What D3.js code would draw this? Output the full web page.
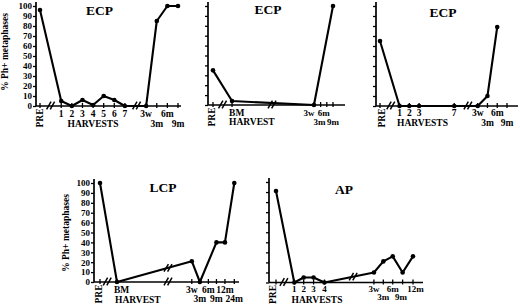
<!DOCTYPE html>
<html><head><meta charset="utf-8">
<script src="https://cdn.jsdelivr.net/npm/d3@7"></script>
<style>
html,body{margin:0;padding:0;background:#fff;}
svg text{font-family:"Liberation Serif","Times New Roman",serif;font-weight:bold;fill:#000;}
</style></head>
<body>
<svg id="chart" width="520" height="304"></svg>
<script>
// ---------- DATA ----------
// Panel 1 (ECP)
const p1Cats = ["PRE","1","2","3","4","5","6","7","3w","3m","6m","9m"];
const p1Pos  = [0, 2, 3, 4, 5, 6, 7, 8, 10, 11, 12, 13];
const p1Vals = [96, 5, 0, 6, 1, 10, 6, 0, 0, 85, 100, 100];
const p1Breaks = [1, 9.1];

// Panel 2 (ECP)
const p2Cats = ["PRE","BM","3w","3m","6m","9m"];
const p2Pos  = [0, 2, 10.6, 11.3, 11.95, 12.6];
const p2Vals = [35, 4, 0, null, null, 100];
const p2Breaks = [1, 6.2];

// Panel 3 (ECP)
const p3Cats = ["PRE","1","2","3","7","3w","3m","6m","9m"];
const p3Pos  = [0, 2, 3, 4, 7.6, 10, 11, 12, 13];
const p3Vals = [65, 0, 0, 0, 0, 0, 10, 79, null];
const p3Breaks = [1.1, 9];

// Panel 4 (LCP)
const p4Cats = ["PRE","BM","3w","3m","6m","9m","12m","24m"];
const p4Pos  = [0, 2, 10.8, 11.75, 12.75, 13.7, 14.7, 15.8];
const p4Vals = [100, 0, 21, 0, null, 40, 40, 100];
const p4Breaks = [0.85, 8];

// Panel 5 (AP)
const p5Cats = ["PRE","1","2","3","4","3w","3m","6m","9m","12m"];
const p5Pos  = [0, 1.85, 2.8, 3.8, 4.9, 9.9, 10.85, 11.8, 12.8, 13.85];
const p5Vals = [91, 0, 5, 5, 0, 10, 21, 26, 10, 26];
const p5Breaks = [0.8];
const p5DataBreaks = [7.8];

const yTicks = [0,10,20,30,40,50,60,70,80,90,100];
const yTitle = "% Ph+ metaphases";

// ---------- DRAW ----------
const svg = d3.select("#chart");

function breakMark(g, x, y) {
  [-1.8, 1.8].forEach(o => {
    g.append("line")
      .attr("x1", x + o - 2.2).attr("y1", y + 3.8)
      .attr("x2", x + o + 2.2).attr("y2", y - 3.8)
      .attr("stroke", "#000").attr("stroke-width", 1.5);
  });
}

function panel(cfg) {
  const g = svg.append("g");
  const x = d3.scaleLinear().domain(cfg.slotDomain).range(cfg.pxRange);
  const y = d3.scaleLinear().domain([0, 100]).range([cfg.y0, cfg.y100]);
  const fs = cfg.fs || 9.5;

  // y axis
  const yAxis = d3.axisLeft(y).tickValues(yTicks).tickSize(3).tickPadding(1)
    .tickFormat(cfg.yLabels ? d3.format("d") : () => "");
  const ya = g.append("g").attr("transform", `translate(${cfg.axisX},0)`).call(yAxis);
  ya.select(".domain").remove();
  ya.selectAll("line").attr("stroke", "#000").attr("stroke-width", 1.3);
  ya.selectAll("text").style("font-size", "9px").style("font-family", null);
  g.append("line").attr("x1", cfg.axisX).attr("x2", cfg.axisX)
    .attr("y1", cfg.yTop).attr("y2", cfg.y0)
    .attr("stroke", "#000").attr("stroke-width", 1.7);

  // x axis line
  g.append("line").attr("x1", cfg.axisX).attr("x2", cfg.axisEnd)
    .attr("y1", cfg.y0).attr("y2", cfg.y0)
    .attr("stroke", "#000").attr("stroke-width", 1.7);

  // x ticks
  g.selectAll(".xt").data(cfg.pos).enter().append("line")
    .attr("x1", d => x(d)).attr("x2", d => x(d))
    .attr("y1", cfg.y0 - 3).attr("y2", cfg.y0 + 2)
    .attr("stroke", "#000").attr("stroke-width", 1.3);

  // x tick labels
  let timeIdx = 0;
  cfg.cats.forEach((c, i) => {
    const px = x(cfg.pos[i]) + (cfg.labelDx ? cfg.labelDx[i] : 0);
    if (c === "PRE") {
      g.append("text").text(c)
        .attr("transform", `translate(${px + cfg.preDx + 3.5},${cfg.y0 + 2.5}) rotate(-90)`)
        .attr("text-anchor", "end").style("font-size", "9.5px");
    } else if (c === "BM") {
      g.append("text").text(c).attr("x", px - 3).attr("y", cfg.y0 + cfg.row1)
        .attr("text-anchor", "start").style("font-size", "9.5px");
    } else {
      let row = cfg.row1;
      if (/[wm]$/.test(c)) { row = (timeIdx % 2 === 0) ? cfg.row1 : cfg.row2; timeIdx++; }
      g.append("text").text(c).attr("x", px).attr("y", cfg.y0 + row)
        .attr("text-anchor", "middle").style("font-size", fs + "px");
    }
  });

  // x axis title
  g.append("text").text(cfg.xTitle).attr("x", cfg.xTitleX).attr("y", cfg.y0 + cfg.xTitleDy)
    .attr("text-anchor", cfg.xTitleAnchor).style("font-size", "9.5px");

  // y title
  if (cfg.yLabels) {
    g.append("text").text(yTitle)
      .attr("transform", `translate(${cfg.yTitleX},${cfg.yTitleY}) rotate(-90)`)
      .attr("text-anchor", "middle").style("font-size", "9.5px");
  }

  // chart title
  g.append("text").text(cfg.title).attr("x", cfg.titleX).attr("y", cfg.titleY)
    .attr("text-anchor", "middle").style("font-size", "13.5px");

  // data
  const pts = cfg.cats.map((c, i) => ({x: cfg.pos[i], v: cfg.vals[i]})).filter(d => d.v !== null);
  const line = d3.line().x(d => x(d.x)).y(d => y(d.v));
  g.append("path").datum(pts).attr("d", line)
    .attr("fill", "none").attr("stroke", "#000").attr("stroke-width", 2.1)
    .attr("stroke-linejoin", "round");
  g.selectAll(".dot").data(pts).enter().append("circle")
    .attr("cx", d => x(d.x)).attr("cy", d => y(d.v)).attr("r", 2.3).attr("fill", "#000");

  // axis breaks
  cfg.breaks.forEach(b => breakMark(g, x(b), cfg.y0 - 0.5));
  (cfg.dataBreaks || []).forEach(b => {
    let yy = cfg.y0;
    for (let k = 0; k < pts.length - 1; k++) {
      if (pts[k].x <= b && pts[k + 1].x >= b) {
        const t = (b - pts[k].x) / (pts[k + 1].x - pts[k].x);
        yy = y(pts[k].v + t * (pts[k + 1].v - pts[k].v));
      }
    }
    breakMark(g, x(b), yy);
  });
}

panel({cats: p1Cats, pos: p1Pos, vals: p1Vals, breaks: p1Breaks,
  slotDomain: [0, 13], pxRange: [40, 178], y0: 106, y100: 6, yTop: 2,
  axisX: 36, axisEnd: 181, yLabels: true, row1: 11, row2: 21, preDx: -1,
  xTitle: "HARVESTS", xTitleX: 93, xTitleDy: 21, xTitleAnchor: "middle",
  yTitleX: 8, yTitleY: 52, title: "ECP", titleX: 99.5, titleY: 15});

panel({cats: p2Cats, pos: p2Pos, vals: p2Vals, breaks: p2Breaks,
  slotDomain: [0, 12.6], pxRange: [213, 333], y0: 105, y100: 6, yTop: 2,
  axisX: 208, axisEnd: 345, yLabels: false, row1: 11, row2: 20, preDx: -1.5,
  labelDx: [0, 0, -5, -1, -3, 0], fs: 9,
  xTitle: "HARVEST", xTitleX: 229, xTitleDy: 20, xTitleAnchor: "start",
  title: "ECP", titleX: 268, titleY: 14});

panel({cats: p3Cats, pos: p3Pos, vals: p3Vals, breaks: p3Breaks,
  slotDomain: [0, 13], pxRange: [380, 507], y0: 106, y100: 6, yTop: 2,
  axisX: 376, axisEnd: 518, yLabels: false, row1: 10, row2: 20, preDx: 1.5,
  xTitle: "HARVESTS", xTitleX: 422.5, xTitleDy: 20, xTitleAnchor: "middle",
  title: "ECP", titleX: 443, titleY: 16.5});

panel({cats: p4Cats, pos: p4Pos, vals: p4Vals, breaks: p4Breaks, dataBreaks: p4Breaks.slice(1),
  slotDomain: [0, 15.8], pxRange: [100, 234.3], y0: 282, y100: 183, yTop: 179,
  axisX: 94, axisEnd: 239, yLabels: true, row1: 11, row2: 20, preDx: -1.5,
  xTitle: "HARVEST", xTitleX: 115, xTitleDy: 21, xTitleAnchor: "start",
  yTitleX: 69, yTitleY: 233, title: "LCP", titleX: 163, titleY: 191.5});

panel({cats: p5Cats, pos: p5Pos, vals: p5Vals, breaks: p5Breaks, dataBreaks: p5DataBreaks,
  slotDomain: [0, 13.85], pxRange: [276, 413], y0: 282.5, y100: 182, yTop: 178,
  axisX: 269, axisEnd: 423, yLabels: false, row1: 9, row2: 17, preDx: -3.7, fs: 9,
  labelDx: [0, 0, 0, 0, 0, 0, 0, 0, -1.5, 2.5],
  xTitle: "HARVESTS", xTitleX: 317, xTitleDy: 20.3, xTitleAnchor: "middle",
  title: "AP", titleX: 344, titleY: 194});
</script>
</body></html>
